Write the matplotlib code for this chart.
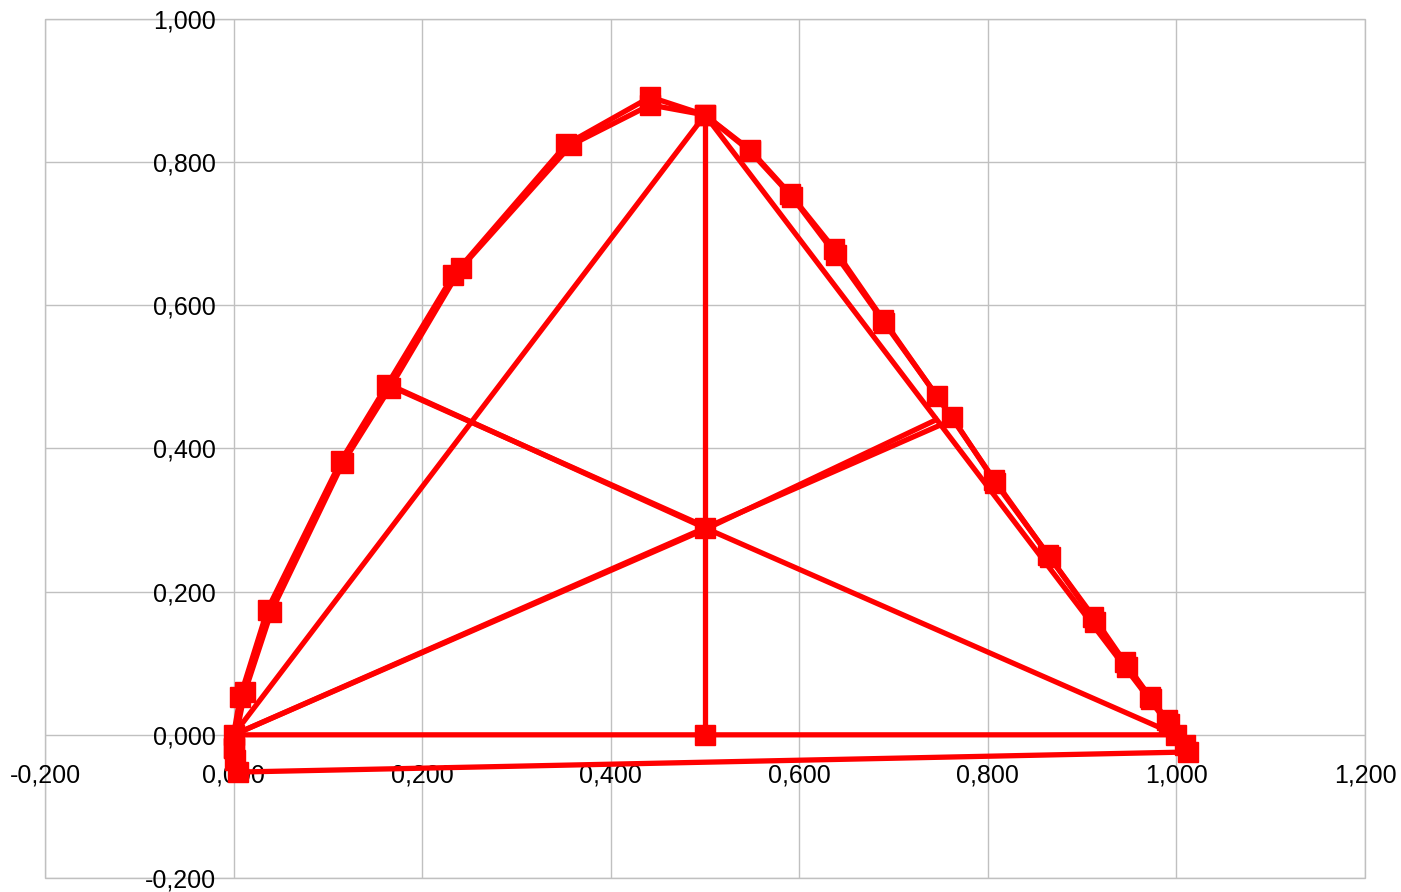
import matplotlib
matplotlib.use("Agg")
import matplotlib.pyplot as plt
import matplotlib.ticker
from matplotlib.patches import Rectangle

plt.rcParams["font.family"] = ["Liberation Sans", "DejaVu Sans"]

red = "#ff0000"

# outer curve, first pass
curve1_x = [0.000, 0.007, 0.036, 0.114, 0.163, 0.233, 0.353, 0.442, 0.500, 0.548, 0.590,
            0.637, 0.689, 0.746, 0.807, 0.864, 0.912, 0.945, 0.972, 0.990, 1.000]
curve1_y = [0.000, 0.053, 0.175, 0.383, 0.489, 0.642, 0.825, 0.891, 0.866, 0.817, 0.756,
            0.679, 0.580, 0.473, 0.356, 0.251, 0.165, 0.102, 0.053, 0.021, 0.000]

# outer curve, second pass (plus the bottom return)
curve2_x = [0.000, 0.012, 0.040, 0.116, 0.166, 0.241, 0.358, 0.442, 0.500, 0.548, 0.592,
            0.639, 0.690, 0.762, 0.808, 0.866, 0.914, 0.948, 0.973, 0.992, 1.009, 1.012,
            0.005, 0.002, 0.000]
curve2_y = [-0.018, 0.060, 0.172, 0.380, 0.485, 0.652, 0.824, 0.880, 0.866, 0.815, 0.752,
            0.670, 0.576, 0.444, 0.352, 0.248, 0.158, 0.095, 0.050, 0.015, -0.014, -0.024,
            -0.052, -0.035, -0.018]

# triangle
tri_x = [0.0, 0.5, 1.0, 0.0]
tri_y = [0.0, 0.866, 0.0, 0.0]

# medians
med_v_x = [0.5, 0.5]
med_v_y = [0.866, 0.0]
med_a_x = [0.0, 0.5, 0.750]
med_a_y = [0.0, 0.289, 0.433]
med_a2_x = [0.0, 0.5, 0.745]
med_a2_y = [0.0, 0.287, 0.440]
med_b_x = [0.172, 0.5, 1.0]
med_b_y = [0.485, 0.289, 0.0]
med_b2_x = [0.163, 0.5]
med_b2_y = [0.489, 0.291]

centre_x = [0.5, 0.5]
centre_y = [0.289, 0.0]

fig = plt.figure(figsize=(14.01, 8.92), dpi=100)
ax = fig.add_axes([45 / 1401, 14 / 892, 1320 / 1401, 859 / 892])

lw = 3.8
ms = 14
ax.plot(tri_x, tri_y, color=red, lw=lw)
ax.plot(med_v_x, med_v_y, color=red, lw=lw)
ax.plot(med_a_x, med_a_y, color=red, lw=lw)
ax.plot(med_a2_x, med_a2_y, color=red, lw=lw)
ax.plot(med_b_x, med_b_y, color=red, lw=lw)
ax.plot(med_b2_x, med_b2_y, color=red, lw=lw)
ax.plot(curve1_x, curve1_y, color=red, lw=lw, marker="s", markersize=ms)
ax.plot(curve2_x, curve2_y, color=red, lw=lw, marker="s", markersize=ms)
ax.plot(centre_x, centre_y, color=red, lw=0, marker="s", markersize=ms)

ax.set_xlim(-0.2, 1.2)
ax.set_ylim(-0.2, 1.0)
ax.xaxis.set_major_locator(matplotlib.ticker.MultipleLocator(0.2))
ax.yaxis.set_major_locator(matplotlib.ticker.MultipleLocator(0.2))
fmt = matplotlib.ticker.FuncFormatter(lambda v, p: ("%.3f" % v).replace(".", ",").replace("-0,000", "0,000"))
ax.xaxis.set_major_formatter(fmt)
ax.yaxis.set_major_formatter(fmt)

ax.grid(True, color="#c0c0c0", lw=1.0)
ax.set_axisbelow(True)

for s in ax.spines.values():
    s.set_visible(False)
ax.spines["left"].set_position(("data", 0))
ax.spines["bottom"].set_position(("data", 0))
ax.tick_params(axis="x", length=0, pad=21, labelsize=18)
ax.tick_params(axis="y", length=0, pad=13, labelsize=18)

ax.add_patch(Rectangle((0, 0), 1, 1, transform=ax.transAxes, fill=False,
                       edgecolor="#c0c0c0", lw=1.0, clip_on=False, zorder=0))

plt.savefig("out.png", dpi=100)
